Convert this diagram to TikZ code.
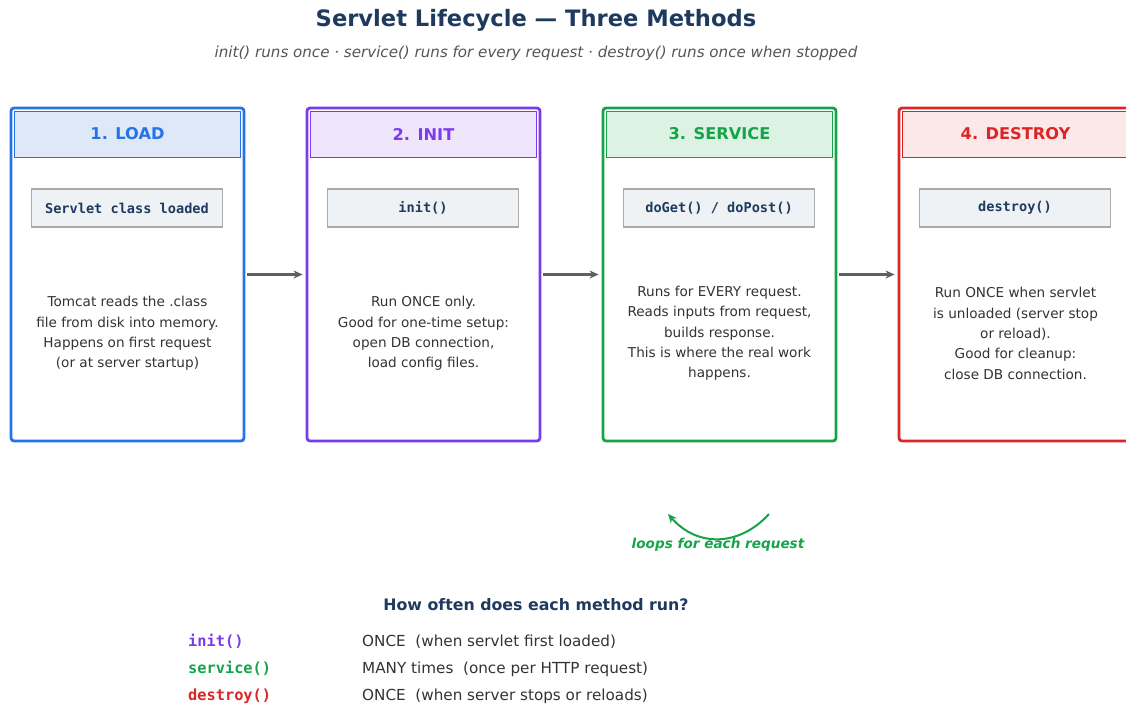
\documentclass[tikz,border=0pt]{standalone}
\usepackage{fontspec}
\setmainfont{DejaVu Sans}
\setmonofont{DejaVu Sans Mono}
\usetikzlibrary{arrows.meta}
\definecolor{navy}{HTML}{1E3A5F}
\definecolor{txt}{HTML}{333333}
\definecolor{sub}{HTML}{555555}
\definecolor{cblue}{HTML}{2473E8}
\definecolor{cpurple}{HTML}{7C3AED}
\definecolor{cgreen}{HTML}{16A34A}
\definecolor{cred}{HTML}{DC2626}
\definecolor{fblue}{HTML}{DEE8F7}
\definecolor{fpurple}{HTML}{EFE6FB}
\definecolor{fgreen}{HTML}{DCF3E3}
\definecolor{fred}{HTML}{FCE7E9}
\definecolor{codebg}{HTML}{EEF2F5}
\definecolor{codeln}{HTML}{AAAAAA}
\definecolor{arr}{HTML}{5F5F5F}
\tikzset{
  stage/.style={draw=#1, line width=2.8pt, rounded corners=3pt, fill=white,
    minimum width=233pt, minimum height=333pt, inner sep=0pt},
  band/.style={draw=#1, line width=1pt, minimum width=226pt, minimum height=46pt, inner sep=0pt},
  bandtext/.style={text=#1, font=\fontsize{16.2}{19}\selectfont\bfseries},
  codebox/.style={draw=codeln, line width=1.2pt, fill=codebg, minimum width=191pt,
    minimum height=38pt, inner sep=0pt, text=navy, font=\ttfamily\bfseries\fontsize{13.6}{15}\selectfont},
  desc/.style={align=center, text=txt, font=\fontsize{13.6}{20.3}\selectfont},
  flow/.style={draw=arr, line width=2.2pt, -{Stealth[length=9pt,width=8pt]}},
  code/.style={anchor=base west, inner sep=0pt, font=\ttfamily\bfseries\fontsize{15.3}{17}\selectfont, text=#1},
  rowtxt/.style={anchor=base west, inner sep=0pt, text=txt, font=\fontsize{15.2}{17}\selectfont},
}
\begin{document}
\begin{tikzpicture}[x=1pt,y=-1pt]
\useasboundingbox (0,0) rectangle (1126,704);

% title and subtitle
\node[text=navy, font=\fontsize{22.6}{26}\selectfont\bfseries] (title) at (536,20) {Servlet Lifecycle — Three Methods};
\node[text=sub, font=\fontsize{15.1}{18}\selectfont\itshape] (subtitle) at (536,53) {init() runs once · service() runs for every request · destroy() runs once when stopped};

% the four stages
\foreach \i/\c/\f/\t/\code/\d in {
  1/cblue/fblue/{1. LOAD}/{Servlet class loaded}/{Tomcat reads the .class\\file from disk into memory.\\Happens on first request\\(or at server startup)},
  2/cpurple/fpurple/{2. INIT}/{init()}/{Run ONCE only.\\Good for one-time setup:\\open DB connection,\\load config files.},
  3/cgreen/fgreen/{3. SERVICE}/{doGet() / doPost()}/{Runs for EVERY request.\\Reads inputs from request,\\builds response.\\This is where the real work\\happens.},
  4/cred/fred/{4. DESTROY}/{destroy()}/{Run ONCE when servlet\\is unloaded (server stop\\or reload).\\Good for cleanup:\\close DB connection.}}{
  \pgfmathsetmacro{\cx}{127.5+296*(\i-1)}
  \node[stage=\c] (s\i) at (\cx,274.5) {};
  \node[band=\c, fill=\f] (h\i) at (\cx,134) {};
  \node[bandtext=\c] (ht\i) at (\cx,134) {\t};
  \node[codebox] (c\i) at (\cx-0.5,208) {\code};
  \node[desc] (d\i) at (\cx,333.5) {\d};
}

% transitions between stages
\draw[flow] ([xshift=2pt]s1.east) -- ([xshift=-3pt]s2.west);
\draw[flow] ([xshift=2pt]s2.east) -- ([xshift=-3pt]s3.west);
\draw[flow] ([xshift=2pt]s3.east) -- ([xshift=-3pt]s4.west);

% request loop under the service stage
\coordinate (l1) at (769,514);
\coordinate (l2) at (668,514);
\draw[cgreen, line width=2pt, -{Stealth[length=9pt,width=8pt]}]
  (l1) .. controls (740,546) and (698,548) .. (l2);
\node[text=cgreen, font=\fontsize{13.6}{15}\selectfont\bfseries\itshape] (loop) at (718,545) {loops for each request};

% summary table
\node[text=navy, font=\fontsize{15.8}{18}\selectfont\bfseries] (qhead) at (536,605) {How often does each method run?};
\node[code=cpurple] (k1) at (188,646) {init()};
\node[rowtxt] (v1) at (362,646) {ONCE\ \ (when servlet first loaded)};
\node[code=cgreen] (k2) at (188,673) {service()};
\node[rowtxt] (v2) at (362,673) {MANY times\ \ (once per HTTP request)};
\node[code=cred] (k3) at (188,700) {destroy()};
\node[rowtxt] (v3) at (362,700) {ONCE\ \ (when server stops or reloads)};
\end{tikzpicture}
\end{document}
